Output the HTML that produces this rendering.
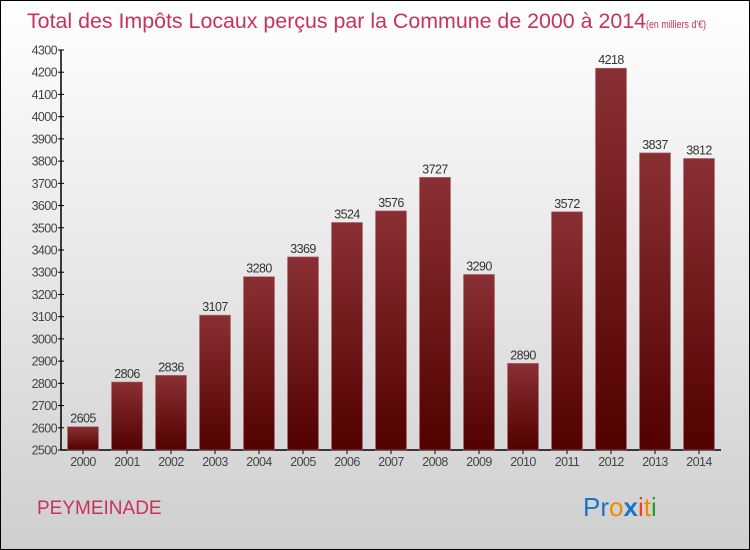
<!DOCTYPE html>
<html><head><meta charset="utf-8"><style>
body{margin:0}
#c{width:748px;height:548px;border:1px solid #000;position:relative;background:linear-gradient(#fff,#cfcfcf);font-family:"Liberation Sans",sans-serif;overflow:hidden}
</style></head><body>
<div id="c">
<svg width="748" height="548" id="svg" style="position:absolute;left:0;top:0">
<defs><linearGradient id="bg" x1="0" y1="0" x2="0" y2="1"><stop offset="0" stop-color="#8a3034"/><stop offset="1" stop-color="#520000"/></linearGradient></defs>
<text x="26" y="27" font-size="21" fill="#c8325a" textLength="619" lengthAdjust="spacingAndGlyphs">Total des Impôts Locaux perçus par la Commune de 2000 à 2014</text>
<text x="645" y="27" font-size="11" fill="#c8325a" textLength="60" lengthAdjust="spacingAndGlyphs">(en milliers d'€)</text>
<text x="36" y="513" font-size="19" fill="#c8325a">PEYMEINADE</text>
<g font-size="26" font-family="Liberation Sans,sans-serif">
<text x="582" y="515"><tspan fill="#1a73c8">Pr</tspan><tspan fill="#f08c00">o</tspan><tspan fill="#1a73c8" font-weight="bold">x</tspan><tspan fill="#e8401c">i</tspan><tspan fill="#f08c00">t</tspan><tspan fill="#2a9a2a">i</tspan></text>
</g>
<g id="axes"></g><g id="bars"></g>
</svg>
</div>
<script>
const years=["2000","2001","2002","2003","2004","2005","2006","2007","2008","2009","2010","2011","2012","2013","2014"];
const values=[2605,2806,2836,3107,3280,3369,3524,3576,3727,3290,2890,3572,4218,3837,3812];
const yTicks=[2500,2600,2700,2800,2900,3000,3100,3200,3300,3400,3500,3600,3700,3800,3900,4000,4100,4200,4300];
const NS="http://www.w3.org/2000/svg";
const y0=449,y1=49,vmin=2500,vmax=4300,x0=60,band=44,bw=31;
const Y=v=>y0-(v-vmin)/(vmax-vmin)*(y0-y1);
const X=i=>x0+band*(i+0.5);
function mk(t,a,p){const e=document.createElementNS(NS,t);for(const k in a)e.setAttribute(k,a[k]);p.appendChild(e);return e;}
const ax=document.getElementById('axes'),bg=document.getElementById('bars');
let l=mk('line',{x1:x0,y1:y1,x2:x0,y2:y0,stroke:'#000','stroke-width':1.5},ax);


l=mk('line',{x1:x0,y1:y0,x2:x0+band*years.length,y2:y0,stroke:'#000','stroke-width':1.5},ax);


yTicks.forEach(v=>{
 mk('line',{x1:x0-3,x2:x0+3,y1:Y(v),y2:Y(v),stroke:'#000'},ax);
 const t=mk('text',{x:x0-4,y:Y(v)+4.5,'text-anchor':'end','font-size':12.5,fill:'#444','letter-spacing':'-0.6'},ax);
 t.textContent=v;
 
 
});
years.forEach((yr,i)=>{
 mk('line',{x1:X(i),x2:X(i),y1:y0,y2:y0+4,stroke:'#000'},ax);
 const t=mk('text',{x:X(i),y:y0+16,'text-anchor':'middle','font-size':12.5,fill:'#444','letter-spacing':'-0.6'},ax);
 t.textContent=yr;
 
 
 const r=mk('rect',{x:X(i)-bw/2,y:Y(values[i]),width:bw,height:y0-Y(values[i]),fill:'url(#bg)',stroke:'#b07078','stroke-width':0.6},bg);
 
 
 const vt=mk('text',{x:X(i),y:Y(values[i])-4,'text-anchor':'middle','font-size':12.5,fill:'#333','letter-spacing':'-0.6'},bg);
 vt.textContent=values[i];
 
 
});
</script>
</body></html>
